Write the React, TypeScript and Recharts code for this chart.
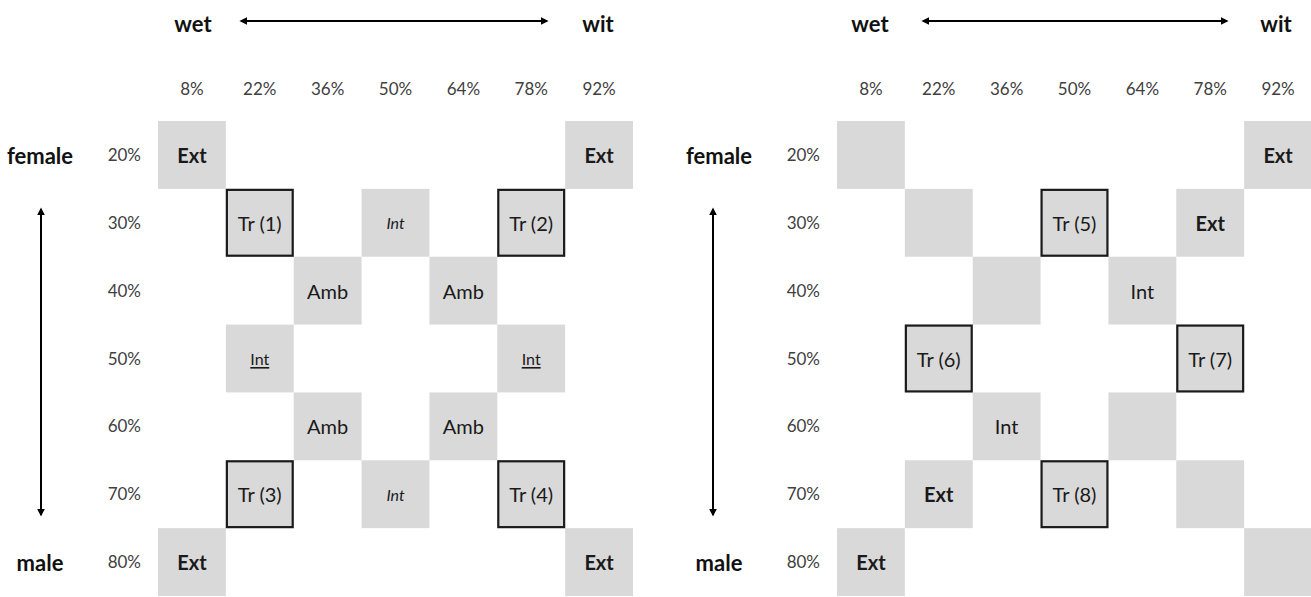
import { ScatterChart, Scatter, XAxis, YAxis } from 'recharts';

// column / row categories (wet -> wit, female -> male)
const X_LABELS = ['8%', '22%', '36%', '50%', '64%', '78%', '92%'];
const Y_LABELS = ['20%', '30%', '40%', '50%', '60%', '70%', '80%'];

// [column, row, text, style]  style: ext = bold, tr = boxed, it = italic, ul = underlined, plain, blank
type CellDef = [string, string, string, string];

const LEFT_CELLS: CellDef[] = [
  ['8%', '20%', 'Ext', 'ext'],
  ['92%', '20%', 'Ext', 'ext'],
  ['22%', '30%', 'Tr (1)', 'tr'],
  ['50%', '30%', 'Int', 'it'],
  ['78%', '30%', 'Tr (2)', 'tr'],
  ['36%', '40%', 'Amb', 'plain'],
  ['64%', '40%', 'Amb', 'plain'],
  ['22%', '50%', 'Int', 'ul'],
  ['78%', '50%', 'Int', 'ul'],
  ['36%', '60%', 'Amb', 'plain'],
  ['64%', '60%', 'Amb', 'plain'],
  ['22%', '70%', 'Tr (3)', 'tr'],
  ['50%', '70%', 'Int', 'it'],
  ['78%', '70%', 'Tr (4)', 'tr'],
  ['8%', '80%', 'Ext', 'ext'],
  ['92%', '80%', 'Ext', 'ext'],
];

const RIGHT_CELLS: CellDef[] = [
  ['8%', '20%', '', 'blank'],
  ['92%', '20%', 'Ext', 'ext'],
  ['22%', '30%', '', 'blank'],
  ['50%', '30%', 'Tr (5)', 'tr'],
  ['78%', '30%', 'Ext', 'ext'],
  ['36%', '40%', '', 'blank'],
  ['64%', '40%', 'Int', 'plain'],
  ['22%', '50%', 'Tr (6)', 'tr'],
  ['78%', '50%', 'Tr (7)', 'tr'],
  ['36%', '60%', 'Int', 'plain'],
  ['64%', '60%', '', 'blank'],
  ['22%', '70%', 'Ext', 'ext'],
  ['50%', '70%', 'Tr (8)', 'tr'],
  ['78%', '70%', '', 'blank'],
  ['8%', '80%', 'Ext', 'ext'],
  ['92%', '80%', '', 'blank'],
];

const FONT = 'Lato, "Open Sans", sans-serif';
const PLOT = 475;
const CELL = PLOT / 7;
const TICKS = X_LABELS.map((_, i) => i + 0.5);

function toPoints(cells: CellDef[]) {
  return cells.map(([c, r, text, style]) => ({
    x: X_LABELS.indexOf(c) + 0.5,
    y: Y_LABELS.indexOf(r) + 0.5,
    text,
    style,
  }));
}

function CellShape(props: any) {
  const { cx, cy, payload } = props;
  const h = CELL / 2;
  const boxed = payload.style === 'tr';
  const small = payload.style === 'it' || payload.style === 'ul';
  return (
    <g>
      {boxed ? (
        <rect x={cx - h + 1} y={cy - h + 1} width={CELL - 2} height={CELL - 2} fill="#d9d9d9" stroke="#1a1a1a" strokeWidth={2.2} />
      ) : (
        <rect x={cx - h} y={cy - h} width={CELL} height={CELL} fill="#d9d9d9" />
      )}
      {payload.text && (
        <text
          x={cx}
          y={cy}
          textAnchor="middle"
          dominantBaseline="central"
          fontFamily={FONT}
          fontSize={small ? 16 : 20}
          fontWeight={payload.style === 'ext' ? 700 : 400}
          fontStyle={payload.style === 'it' ? 'italic' : 'normal'}
          textDecoration={payload.style === 'ul' ? 'underline' : 'none'}
          fill="#1a1a1a"
        >
          {payload.text}
        </text>
      )}
    </g>
  );
}

function Grid({ cells, width, left, plotLeft }: { cells: CellDef[]; width: number; left: number; plotLeft: number }) {
  const pts = toPoints(cells);
  const plain = pts.filter(p => p.style !== 'tr');
  const boxed = pts.filter(p => p.style === 'tr');
  const tickStyle = { fontSize: 17, fontFamily: FONT, fill: '#404040' };
  return (
    <div style={{ position: 'absolute', left, top: 0 }}>
      <ScatterChart width={width} height={597} margin={{ top: 81, right: width - plotLeft - PLOT, bottom: 1, left: plotLeft - 60 }}>
        <XAxis
          type="number"
          dataKey="x"
          orientation="top"
          domain={[0, 7]}
          ticks={TICKS}
          interval={0}
          height={40}
          tickSize={0}
          tickMargin={26}
          axisLine={false}
          tickLine={false}
          tick={tickStyle}
          tickFormatter={v => X_LABELS[Math.round(v - 0.5)]}
        />
        <YAxis
          type="number"
          dataKey="y"
          domain={[0, 7]}
          reversed
          ticks={TICKS}
          interval={0}
          width={60}
          tickSize={0}
          tickMargin={17}
          axisLine={false}
          tickLine={false}
          tick={tickStyle}
          tickFormatter={v => Y_LABELS[Math.round(v - 0.5)]}
        />
        <Scatter data={plain} shape={CellShape} isAnimationActive={false} />
        <Scatter data={boxed} shape={CellShape} isAnimationActive={false} />
      </ScatterChart>
    </div>
  );
}

function Annotations() {
  const lbl = { fontFamily: FONT, fontSize: 22, fontWeight: 700, fill: '#111', textAnchor: 'middle' as const, dominantBaseline: 'central' as const };
  const panel = (wet: number, wit: number, sex: number, ax: number, h1: number, h2: number) => (
    <g>
      <text x={wet} y={23} {...lbl}>wet</text>
      <text x={wit} y={23} {...lbl}>wit</text>
      <line x1={h1} y1={21} x2={h2} y2={21} stroke="#000" strokeWidth={2} markerStart="url(#ah)" markerEnd="url(#ah)" />
      <text x={sex} y={155} {...lbl}>female</text>
      <text x={sex} y={562} {...lbl}>male</text>
      <line x1={ax} y1={209} x2={ax} y2={515} stroke="#000" strokeWidth={2} markerStart="url(#ah)" markerEnd="url(#ah)" />
    </g>
  );
  return (
    <svg width={1311} height={597} style={{ position: 'absolute', left: 0, top: 0, pointerEvents: 'none' }}>
      <defs>
        <marker id="ah" viewBox="0 0 10 10" refX="8" refY="5" markerWidth="4" markerHeight="4" orient="auto-start-reverse">
          <path d="M0,0 L10,5 L0,10 z" fill="#000" />
        </marker>
      </defs>
      {panel(193, 598, 40, 41, 241, 547)}
      {panel(870, 1276, 719, 713, 923, 1227)}
    </svg>
  );
}

export default function App() {
  return (
    <div style={{ position: 'absolute', left: 0, top: 0, width: 1311, height: 597, overflow: 'hidden', background: '#fff' }}>
      <Grid cells={LEFT_CELLS} width={640} left={0} plotLeft={158} />
      <Grid cells={RIGHT_CELLS} width={652} left={660} plotLeft={177} />
      <Annotations />
    </div>
  );
}
